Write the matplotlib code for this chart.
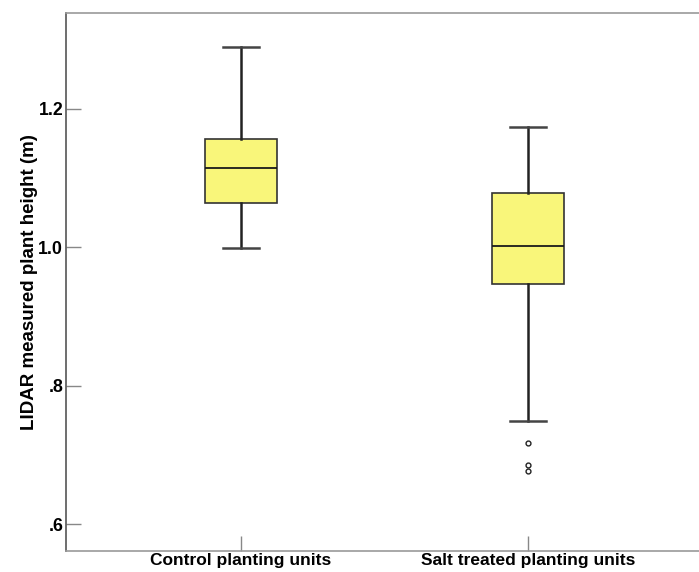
import matplotlib
matplotlib.use("Agg")
import matplotlib.pyplot as plt

# Box plot summary values
groups = ["Control planting units", "Salt treated planting units"]
medians = [1.115, 1.002]
q1 = [1.0645, 0.947]
q3 = [1.156, 1.079]
whis_lo = [0.999, 0.749]
whis_hi = [1.289, 1.174]
outliers = [[], [0.7176, 0.6849, 0.6771]]

plt.rcParams['font.family'] = ['Liberation Sans', 'DejaVu Sans']

stats = []
for i in range(len(groups)):
    stats.append({
        'label': groups[i], 'med': medians[i], 'q1': q1[i], 'q3': q3[i],
        'whislo': whis_lo[i], 'whishi': whis_hi[i], 'fliers': outliers[i],
    })

fig = plt.figure(figsize=(6.99, 5.72), dpi=100)
ax = fig.add_axes([0.0944, 0.0367, 0.9056, 0.9406])

ax.bxp(stats, positions=[1, 2], widths=0.25, patch_artist=True,
       boxprops=dict(facecolor='#F9F67A', edgecolor='#333333', linewidth=1.2),
       medianprops=dict(color='#1a1a1a', linewidth=1.3),
       whiskerprops=dict(color='#222222', linewidth=1.8),
       capprops=dict(color='#444444', linewidth=1.8),
       capwidths=0.125,
       flierprops=dict(marker='o', markersize=3.5, markerfacecolor='white',
                       markeredgecolor='#222222', markeredgewidth=1.0))

ax.set_xlim(0.39, 2.596)
ax.set_ylim(0.561, 1.3388)
ax.set_yticks([0.6, 0.8, 1.0, 1.2])
ax.set_yticklabels(['.6', '.8', '1.0', '1.2'])
ax.set_xticks([1, 2])
ax.set_xticklabels(groups)

for lab in ax.get_xticklabels():
    lab.set_fontweight('bold')
    lab.set_fontsize(12.5)
for lab in ax.get_yticklabels():
    lab.set_fontweight('bold')
    lab.set_fontsize(12.8)
ax.tick_params(axis='both', direction='in', length=11, width=1, color='#888888')
ax.tick_params(axis='y', pad=2)
ax.tick_params(axis='x', pad=1.5)

ax.set_ylabel('LIDAR measured plant height (m)', fontsize=13.5, fontweight='bold', labelpad=0)

ax.spines['right'].set_visible(False)
ax.spines['top'].set_color('#999999')
ax.spines['bottom'].set_color('#999999')
ax.spines['left'].set_color('#555555')
for s in ax.spines.values():
    s.set_linewidth(1.2)

fig.savefig('out.png', dpi=100)
